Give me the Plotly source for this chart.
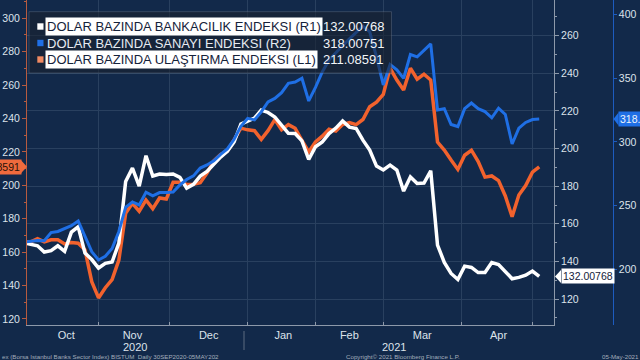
import plotly.graph_objects as go

# ---------------- data ----------------
dates = [
    "2020-09-30", "2020-10-02", "2020-10-06", "2020-10-08", "2020-10-12", "2020-10-14", "2020-10-16",
    "2020-10-20", "2020-10-22", "2020-10-26", "2020-10-28", "2020-11-02", "2020-11-04", "2020-11-06",
    "2020-11-10", "2020-11-12", "2020-11-16", "2020-11-18", "2020-11-20", "2020-11-24", "2020-11-26",
    "2020-11-30", "2020-12-02", "2020-12-04", "2020-12-08", "2020-12-10", "2020-12-14", "2020-12-16",
    "2020-12-18", "2020-12-22", "2020-12-24", "2020-12-28", "2020-12-30", "2021-01-04", "2021-01-06",
    "2021-01-08", "2021-01-12", "2021-01-14", "2021-01-18", "2021-01-20", "2021-01-22", "2021-01-26",
    "2021-01-28", "2021-02-01", "2021-02-03", "2021-02-05", "2021-02-09", "2021-02-11", "2021-02-15",
    "2021-02-17", "2021-02-19", "2021-02-23", "2021-02-25", "2021-03-01", "2021-03-03", "2021-03-05",
    "2021-03-09", "2021-03-11", "2021-03-15", "2021-03-17", "2021-03-19", "2021-03-23", "2021-03-25",
    "2021-03-29", "2021-03-31", "2021-04-02", "2021-04-06", "2021-04-08", "2021-04-12", "2021-04-14",
    "2021-04-16", "2021-04-20", "2021-04-22", "2021-04-27", "2021-04-29", "2021-05-03", "2021-05-05",
]

bank_r1 = [
    149.9, 149.2, 148.3, 145.0, 145.7, 148.3, 145.4, 155.6, 158.4, 144.5,
    141.0, 136.5, 139.0, 139.7, 149.8, 182.5, 189.6, 180.1, 196.2, 185.4,
    186.5, 186.2, 186.5, 184.7, 179.0, 181.0, 185.4, 187.8, 191.8, 195.5,
    198.6, 203.5, 213.0, 214.6, 216.2, 220.5, 219.2, 216.8, 212.5, 208.1,
    208.0, 204.1, 194.2, 201.0, 203.5, 208.0, 210.9, 214.7, 211.4, 210.7,
    204.5, 199.2, 190.7, 188.6, 191.2, 188.6, 177.4, 184.9, 181.4, 181.7,
    188.2, 148.7, 139.5, 133.6, 130.4, 137.5, 136.8, 134.1, 134.1, 139.4,
    138.4, 134.4, 130.8, 131.5, 132.7, 134.9, 132.00768,
]

sanayi_r2 = [
    221.4, 222.2, 222.6, 222.4, 228.8, 229.7, 232.2, 234.2, 237.9, 225.8,
    213.8, 207.3, 210.2, 216.3, 229.7, 248.6, 252.9, 250.5, 260.5, 257.6,
    260.2, 260.2, 260.7, 266.2, 270.5, 273.3, 279.5, 281.9, 285.1, 290.2,
    294.5, 302.1, 312.3, 318.5, 317.3, 323.6, 331.4, 334.2, 338.7, 346.1,
    347.1, 350.0, 332.2, 342.8, 355.0, 364.4, 370.3, 375.6, 380.9, 386.1,
    390.9, 386.4, 366.8, 344.8, 360.9, 356.6, 349.9, 368.7, 366.8, 371.9,
    377.0, 325.1, 326.1, 313.7, 312.1, 326.1, 330.6, 326.1, 323.8, 319.0,
    326.5, 321.6, 298.4, 310.8, 315.3, 317.6, 318.00751,
]

ulastirma_l1 = [
    166.2, 166.2, 168.0, 166.1, 167.4, 167.4, 164.9, 165.8, 165.3, 161.4,
    142.3, 132.6, 138.7, 143.6, 155.3, 183.2, 189.2, 184.5, 191.2, 186.0,
    192.4, 191.8, 201.8, 201.8, 200.5, 200.6, 201.5, 207.3, 214.6, 218.4,
    220.4, 227.5, 234.2, 233.2, 232.7, 227.5, 232.7, 239.3, 233.2, 236.3,
    234.1, 226.9, 220.0, 226.0, 229.4, 233.5, 232.4, 236.4, 237.5, 236.3,
    239.4, 247.0, 249.8, 254.4, 270.1, 263.0, 257.0, 270.1, 263.5, 266.5,
    263.0, 225.9, 221.1, 215.1, 209.5, 218.0, 221.0, 214.2, 204.9, 205.6,
    202.8, 193.6, 181.2, 194.2, 199.8, 207.9, 211.08591,
]

series_names = [
    "DOLAR BAZINDA BANKACILIK ENDEKSI (R1)",
    "DOLAR BAZINDA SANAYI ENDEKSI (R2)",
    "DOLAR BAZINDA ULAŞTIRMA ENDEKSI (L1)",
]
last_labels = ["132.00768", "318.00751", "211.08591"]
year_labels = ["2020", "2021"]
holidays = ["2020-10-29", "2021-01-01", "2021-04-23"]
footer_left = "ex (Borsa Istanbul Banks Sector Index) BISTUM  Daily 30SEP2020-05MAY202"
footer_mid = "Copyright\u00a9 2021 Bloomberg Finance L.P."
footer_right = "05-May-2021"

# ---------------- styling ----------------
W, H = 640, 360
ML, MR, MT, MB = 27, 0, 0, 35
PW = W - ML - MR
PH = H - MT - MB


def px(x):
    return (x - ML) / PW


def py(y):
    return (H - MB - y) / PH


BG = "#12294a"
WHITE = "#ffffff"
BLUE = "#1f6fe5"
ORANGE = "#f2622d"
ORANGE_TAG = "#ef6a3d"
GRID = "#29405f"
TXT = "#dde3ea"
AXGRAY = "#8d99aa"
LCOL = "#b65b40"
RCOL = "#1d5cc0"
FONT = "Liberation Sans, Arial, sans-serif"

fig = go.Figure()
fig.add_trace(go.Scatter(x=dates, y=bank_r1, yaxis="y2", mode="lines",
                         line=dict(color=WHITE, width=3.5), name=series_names[0]))
fig.add_trace(go.Scatter(x=dates, y=sanayi_r2, yaxis="y3", mode="lines",
                         line=dict(color=BLUE, width=3.0), name=series_names[1]))
fig.add_trace(go.Scatter(x=dates, y=ulastirma_l1, yaxis="y", mode="lines",
                         line=dict(color=ORANGE, width=3.5), name=series_names[2]))

tickfont_y = dict(family=FONT, size=10.5, color=TXT)

fig.update_layout(
    template="none",
    width=W, height=H,
    margin=dict(l=ML, r=MR, t=MT, b=MB),
    paper_bgcolor=BG, plot_bgcolor=BG,
    showlegend=False,
    xaxis=dict(
        type="date", domain=[0, px(554)],
        range=["2020-09-30 21:36", "2021-05-11 08:38"],
        rangebreaks=[dict(bounds=["sat", "mon"]), dict(values=holidays)],
        dtick="M1", tick0="2020-10-01", ticklabelmode="period", tickformat="%b",
        showgrid=True, gridcolor=GRID, gridwidth=1,
        showline=True, linecolor=AXGRAY, linewidth=1,
        ticks="inside", ticklen=3, tickcolor=AXGRAY,
        tickfont=dict(family=FONT, size=11, color=TXT),
        zeroline=False, automargin=False,
    ),
    yaxis=dict(
        range=[116.4, 310.9], side="left", anchor="x",
        showline=True, linecolor=LCOL, linewidth=1,
        ticks="outside", ticklen=4, tickcolor=LCOL, dtick=20, tick0=0,
        minor=dict(dtick=10, ticks="outside", ticklen=2, tickcolor=LCOL, showgrid=False),
        showgrid=False, zeroline=False, tickfont=tickfont_y, automargin=False,
    ),
    yaxis2=dict(
        range=[106.2, 279.0], overlaying="y", side="right", anchor="x",
        showline=True, linecolor=AXGRAY, linewidth=1,
        ticks="outside", ticklen=4, tickcolor=AXGRAY, dtick=20, tick0=0,
        minor=dict(dtick=10, ticks="outside", ticklen=2, tickcolor=AXGRAY, showgrid=False),
        showgrid=True, gridcolor=GRID, gridwidth=1, zeroline=False,
        tickfont=tickfont_y, automargin=False,
    ),
    yaxis3=dict(
        range=[156.2, 411.5], overlaying="y", side="right", anchor="free",
        position=px(612.7),
        showline=True, linecolor=RCOL, linewidth=1,
        ticks="outside", ticklen=3, tickcolor=RCOL, dtick=50, tick0=0,
        showgrid=False, zeroline=False, tickfont=tickfont_y, automargin=False,
    ),
)

shapes = []
annotations = []

# legend box
shapes.append(dict(type="rect", xref="paper", yref="paper",
                   x0=px(29), x1=px(391.5), y0=py(73), y1=py(11.7),
                   fillcolor="rgba(26,32,44,0.58)",
                   line=dict(color="rgba(120,132,150,0.35)", width=1), layer="above"))

rows = [26.5, 43.0, 59.5]
sq_colors = [WHITE, BLUE, "#f08a62"]
for i, name in enumerate(series_names):
    yc = rows[i]
    shapes.append(dict(type="rect", xref="paper", yref="paper",
                       x0=px(37.3), x1=px(43.5), y0=py(yc + 3.2), y1=py(yc - 3.2),
                       fillcolor=sq_colors[i], line=dict(width=0), layer="above"))
    highlighted = i != 1
    annotations.append(dict(
        xref="paper", yref="paper", x=px(44.5), y=py(yc), xanchor="left", yanchor="middle",
        text=name, showarrow=False,
        font=dict(family=FONT, size=13, color="#15223a" if highlighted else "#e6ebf2"),
        bgcolor=WHITE if highlighted else "rgba(0,0,0,0)", borderpad=1,
    ))
    annotations.append(dict(
        xref="paper", yref="paper", x=px(320.5), y=py(yc), xanchor="left", yanchor="middle",
        text=last_labels[i], showarrow=False,
        font=dict(family=FONT, size=13, color="#f2f5f8"),
    ))

# axis value tags
# left (L1)
shapes.append(dict(type="path", xref="paper", yref="y", xsizemode="pixel", ysizemode="pixel",
                   xanchor=px(27), yanchor=ulastirma_l1[-1],
                   path="M -6,-6.5 L 0,0 L -6,6.5 Z", fillcolor=ORANGE_TAG,
                   line=dict(width=0), layer="above"))
annotations.append(dict(xref="paper", yref="y", x=px(21.5), y=ulastirma_l1[-1],
                        xanchor="right", yanchor="middle", text=last_labels[2], showarrow=False,
                        bgcolor=ORANGE_TAG, borderpad=1,
                        font=dict(family=FONT, size=10.5, color="#2a1208")))
# right inner (R1)
shapes.append(dict(type="path", xref="paper", yref="y2", xsizemode="pixel", ysizemode="pixel",
                   xanchor=px(555), yanchor=bank_r1[-1],
                   path="M 0,0 L 6,-6.5 L 6,6.5 Z", fillcolor=WHITE,
                   line=dict(width=0), layer="above"))
annotations.append(dict(xref="paper", yref="y2", x=px(560.5), y=bank_r1[-1],
                        xanchor="left", yanchor="middle", text=last_labels[0], showarrow=False,
                        bgcolor=WHITE, borderpad=1,
                        font=dict(family=FONT, size=10.5, color="#15223a")))
# right outer (R2)
shapes.append(dict(type="path", xref="paper", yref="y3", xsizemode="pixel", ysizemode="pixel",
                   xanchor=px(613.5), yanchor=sanayi_r2[-1],
                   path="M 0,0 L 5,-6.5 L 5,6.5 Z", fillcolor=BLUE,
                   line=dict(width=0), layer="above"))
annotations.append(dict(xref="paper", yref="y3", x=px(618), y=sanayi_r2[-1],
                        xanchor="left", yanchor="middle", text=last_labels[1], showarrow=False,
                        bgcolor=BLUE, borderpad=1,
                        font=dict(family=FONT, size=10.5, color="#eef3fa")))

# year labels and separator
annotations.append(dict(xref="paper", yref="paper", x=px(135), y=py(346.5), text=year_labels[0],
                        showarrow=False, xanchor="center", yanchor="middle",
                        font=dict(family=FONT, size=11, color=TXT)))
annotations.append(dict(xref="paper", yref="paper", x=px(394), y=py(346.5), text=year_labels[1],
                        showarrow=False, xanchor="center", yanchor="middle",
                        font=dict(family=FONT, size=11, color=TXT)))
shapes.append(dict(type="line", xref="paper", yref="paper", x0=px(244), x1=px(244),
                   y0=py(331), y1=py(350), line=dict(color="#5d6c80", width=1)))

# footer
ffont = dict(family=FONT, size=6.2, color="#a3adbb")
annotations.append(dict(xref="paper", yref="paper", x=px(0), y=py(356), text=footer_left,
                        showarrow=False, xanchor="left", yanchor="middle", font=ffont))
annotations.append(dict(xref="paper", yref="paper", x=px(403), y=py(356), text=footer_mid,
                        showarrow=False, xanchor="center", yanchor="middle", font=ffont))
annotations.append(dict(xref="paper", yref="paper", x=px(641), y=py(356), text=footer_right,
                        showarrow=False, xanchor="right", yanchor="middle", font=ffont))

fig.update_layout(shapes=shapes, annotations=annotations)

fig.write_html(
    "out.html",
    config={"displayModeBar": False},
    post_script="document.body.style.margin='0';document.body.style.overflow='hidden';",
)
